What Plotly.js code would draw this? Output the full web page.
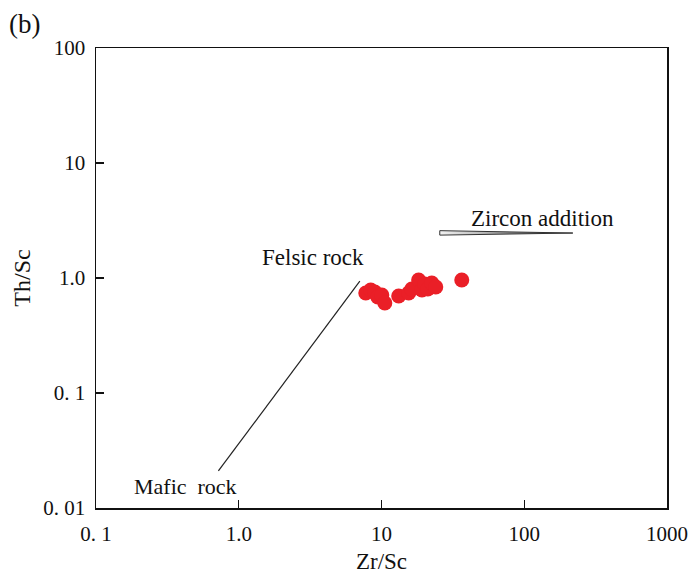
<!DOCTYPE html>
<html>
<head>
<meta charset="utf-8">
<script src="https://cdn.plot.ly/plotly-3.0.1.min.js"></script>
<style>html,body{margin:0;padding:0;background:#fff;}#chart{width:697px;height:574px;}</style>
</head>
<body>
<div id="chart"></div>
<script>
// Sample data: Zr/Sc vs Th/Sc
var zrSc = [7.76, 8.41, 8.98, 9.42, 10.05, 10.55, 13.2, 15.5, 16.3, 18.2, 19.2, 20.1, 21.1, 22.5, 24.0, 36.5];
var thSc = [0.741, 0.787, 0.755, 0.684, 0.711, 0.606, 0.697, 0.741, 0.802, 0.961, 0.787, 0.887, 0.802, 0.905, 0.835, 0.961];

// Reference trend line (mafic -> felsic)
var trendX = [0.72, 7.05];
var trendY = [0.021, 0.94];

// Zircon addition arrow outline
var zirconX = [25.6, 219, 25.6, 25.6];
var zirconY = [2.58, 2.46, 2.36, 2.58];

// Axis ticks
var xTickVals = [0.1, 1, 10, 100, 1000];
var xTickText = ['0. 1', '1.0', '10', '100', '1000'];
var yTickVals = [0.01, 0.1, 1, 10, 100];
var yTickText = ['0. 01', '0. 1', '1.0', '10', '100'];

var font = 'Liberation Serif, Times New Roman, serif';

var traces = [
  {x: trendX, y: trendY, mode: 'lines', type: 'scatter',
   line: {color: '#222', width: 1.2}, hoverinfo: 'skip', showlegend: false},
  {x: zirconX, y: zirconY, mode: 'lines', type: 'scatter', fill: 'toself',
   fillgradient: {type: 'horizontal', colorscale: [[0, '#f2f2f2'], [0.5, '#999'], [1, '#000']]},
   line: {color: '#333', width: 1}, hoverinfo: 'skip', showlegend: false},
  {x: zrSc, y: thSc, mode: 'markers', type: 'scatter',
   marker: {color: '#ea1f27', size: 15, line: {width: 0}}, showlegend: false}
];

var axisCommon = {
  type: 'log', showgrid: false, zeroline: false, showline: true, mirror: true,
  linecolor: '#111', linewidth: 1.5, ticks: 'inside', ticklen: 8, tickwidth: 1.2,
  tickcolor: '#111', tickfont: {family: font, size: 21, color: '#111'}
};

var layout = {
  width: 697, height: 574,
  margin: {l: 96, r: 30, t: 48, b: 66},
  paper_bgcolor: '#fff', plot_bgcolor: '#fff',
  font: {family: font, color: '#111'},
  xaxis: Object.assign({}, axisCommon, {
    range: [-1, 3], tickmode: 'array', tickvals: xTickVals, ticktext: xTickText,
    ticklabelstandoff: 6,
    title: {text: 'Zr/Sc', font: {family: font, size: 23, color: '#111'}, standoff: 9}
  }),
  yaxis: Object.assign({}, axisCommon, {
    range: [-2, 2], tickmode: 'array', tickvals: yTickVals, ticktext: yTickText,
    ticklabelstandoff: 5,
    title: {text: 'Th/Sc', font: {family: font, size: 24, color: '#111'}, standoff: 6}
  }),
  annotations: [
    {text: '(b)', xref: 'paper', yref: 'paper', x: -0.156, y: 1.052, xanchor: 'left', yanchor: 'middle',
     showarrow: false, font: {family: font, size: 27, color: '#111'}},
    {text: 'Zircon addition', x: Math.log10(135), y: Math.log10(3.3), xref: 'x', yref: 'y',
     showarrow: false, font: {family: font, size: 23, color: '#111'}},
    {text: 'Felsic rock', x: Math.log10(3.3), y: Math.log10(1.52), xref: 'x', yref: 'y',
     showarrow: false, font: {family: font, size: 23, color: '#111'}},
    {text: 'Mafic&nbsp;&nbsp;rock', x: Math.log10(0.425), y: Math.log10(0.0155), xref: 'x', yref: 'y',
     showarrow: false, font: {family: font, size: 22, color: '#111'}}
  ]
};

Plotly.newPlot('chart', traces, layout, {displayModeBar: false, staticPlot: true});
</script>
</body>
</html>
